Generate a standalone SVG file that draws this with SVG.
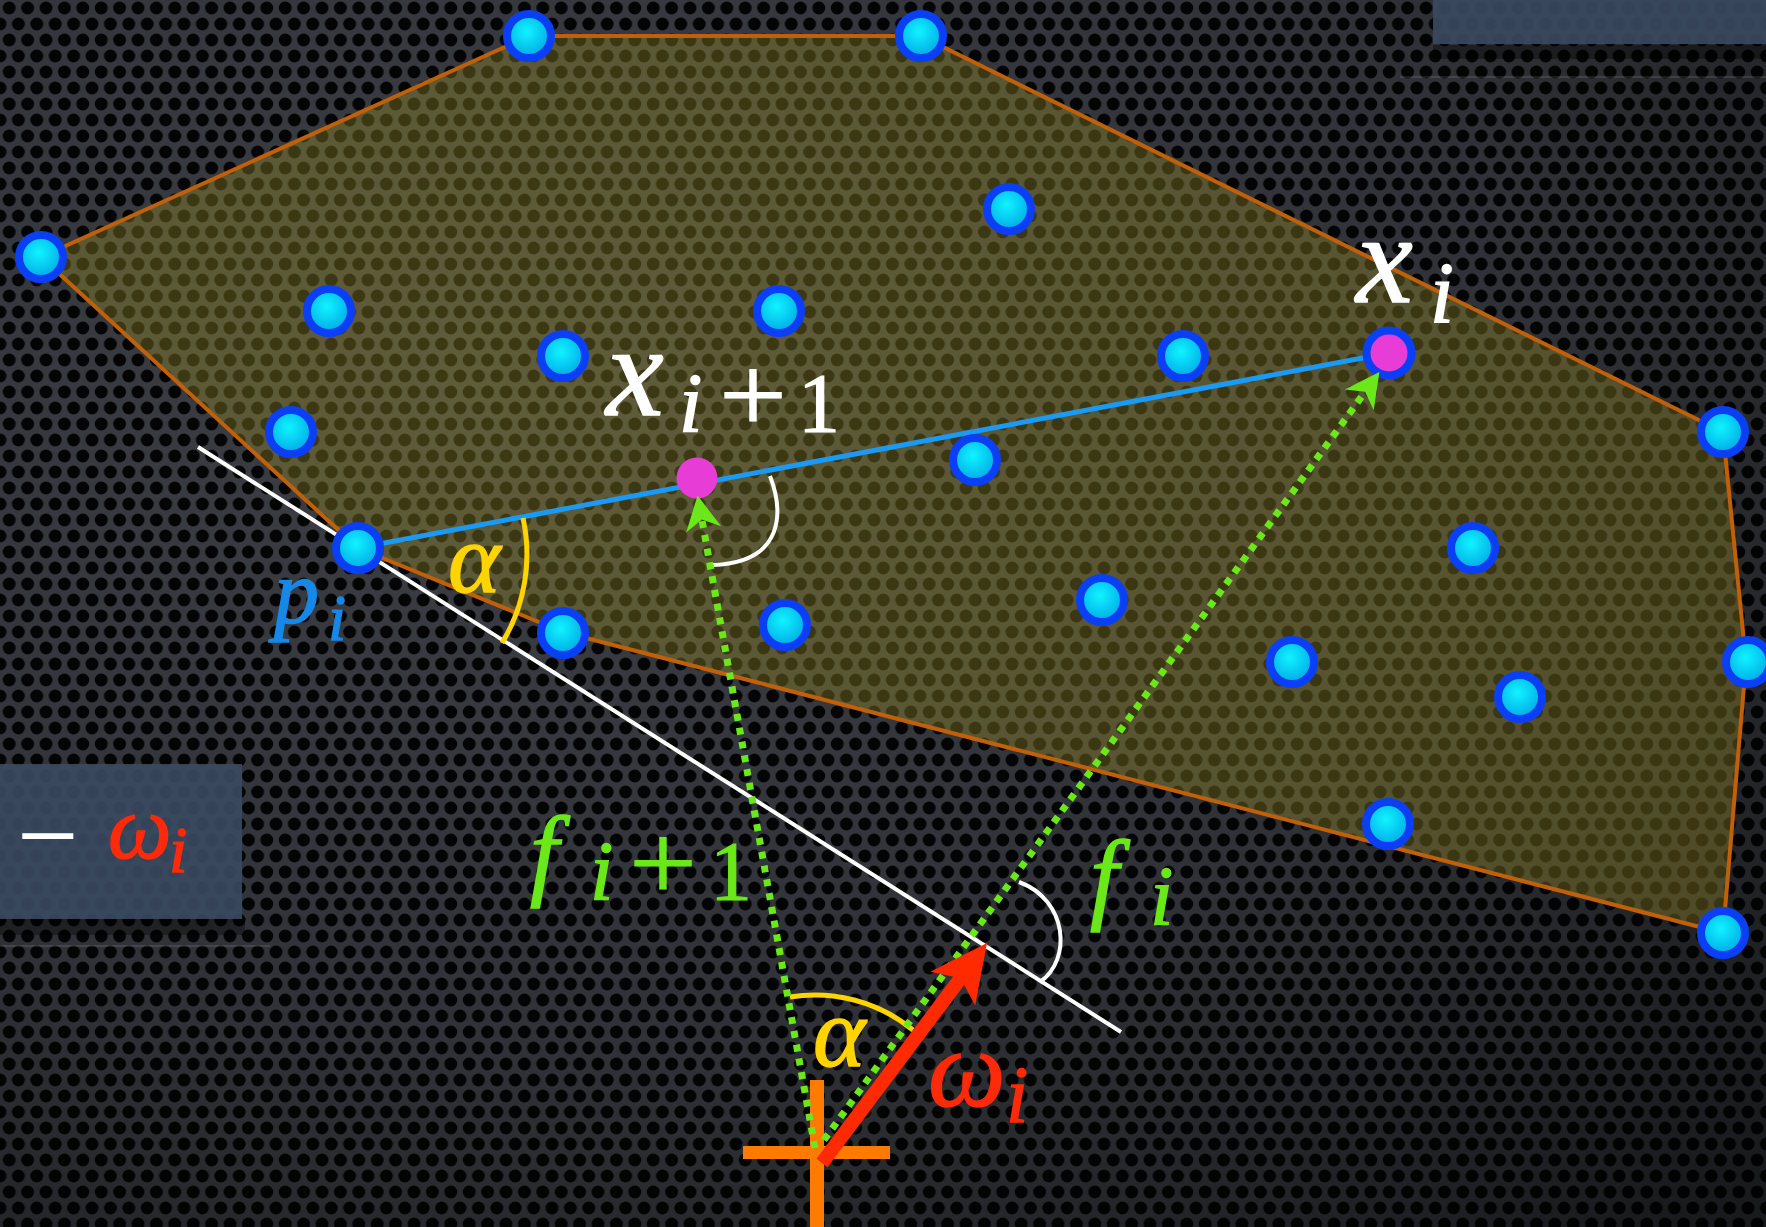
<svg xmlns="http://www.w3.org/2000/svg" width="1766" height="1227" viewBox="0 0 1766 1227">
<defs>
  <pattern id="mesh" width="18.4" height="32" patternUnits="userSpaceOnUse">
    <rect width="18.4" height="32" fill="#3e4147"/>
    <circle cx="9.2" cy="8" r="6.5" fill="#040506"/>
    <circle cx="0" cy="24" r="6.5" fill="#040506"/>
    <circle cx="18.4" cy="24" r="6.5" fill="#040506"/>
  </pattern>
  <radialGradient id="vign" cx="0.3" cy="0.3" r="0.95">
    <stop offset="0" stop-color="#000" stop-opacity="0.02"/>
    <stop offset="0.6" stop-color="#000" stop-opacity="0.25"/>
    <stop offset="1" stop-color="#000" stop-opacity="0.6"/>
  </radialGradient>
  <radialGradient id="cyan" cx="0.45" cy="0.4" r="0.6">
    <stop offset="0" stop-color="#10f4ff"/>
    <stop offset="1" stop-color="#00a8e6"/>
  </radialGradient>
  <marker id="gArrow" markerUnits="userSpaceOnUse" markerWidth="40" markerHeight="40" viewBox="-34 -18 36 36" refX="-22" refY="0" orient="auto">
    <path d="M0,0 L-31,-16 L-22,0 L-31,16 Z" fill="#6ae81a"/>
  </marker>
  <marker id="rArrow" markerUnits="userSpaceOnUse" markerWidth="64" markerHeight="64" viewBox="-60 -32 62 64" refX="-44" refY="0" orient="auto">
    <path d="M0,0 L-57,-28 L-44,0 L-57,28 Z" fill="#ff2a00"/>
  </marker>
  <style>
    .pt { fill: url(#cyan); stroke: #0b3ff5; stroke-width: 8; }
    .mag { fill: #e83cd6; }
    .green { stroke: #6ae81a; stroke-width: 7; stroke-dasharray: 7 7; fill: none; }
    .white { stroke: #ffffff; stroke-width: 4; fill: none; }
    .yarc { stroke: #ffd400; stroke-width: 5; fill: none; }
    .m { font-family: "Liberation Serif", "DejaVu Serif", serif; font-style: italic; stroke-width: 1.4; }
    .r { font-family: "Liberation Serif", "DejaVu Serif", serif; font-style: normal; stroke-width: 1.2; }
    .wt { fill: #ffffff; stroke: #ffffff; }
    .gt { fill: #6ae81a; stroke: #6ae81a; }
    .rt { fill: #ff2a0a; stroke: #ff2a0a; }
    .yt { fill: #ffd400; stroke: #ffd400; }
    .bt { fill: #1688e8; stroke: #1688e8; }
    .box { fill: #3a4a60; fill-opacity: 0.9; }
  </style>
</defs>

<!-- background -->
<rect width="1766" height="1227" fill="url(#mesh)"/>
<rect width="1766" height="1227" fill="url(#vign)"/>
<rect x="1400" y="76" width="366" height="2" fill="#ffffff" fill-opacity="0.1"/>
<rect x="0" y="945" width="270" height="2" fill="#ffffff" fill-opacity="0.1"/>

<!-- boxes -->
<g id="box-top">
  <rect x="1433" y="45" width="333" height="14" fill="#000" fill-opacity="0.35"/>
  <rect class="box" x="1433" y="0" width="333" height="44"/>
</g>
<g id="box-left">
  <rect x="0" y="919" width="245" height="16" fill="#000" fill-opacity="0.35"/>
  <rect class="box" x="0" y="764" width="242" height="155"/>
  <text x="18" y="866" class="r wt" font-size="90" textLength="60" lengthAdjust="spacingAndGlyphs">−</text>
  <text x="108" y="858" class="m rt" font-size="90">ω</text>
  <text x="169" y="872" class="m rt" font-size="66">i</text>
</g>

<!-- hull -->
<g id="hull">
  <polygon points="41,257 529,36 921,36 1723,432 1746,662 1723,933 563,632 358,548" fill="#998b2a" fill-opacity="0.38" stroke="#c0600a" stroke-width="4" stroke-linejoin="round"/>
</g>

<!-- connectors -->
<g id="connectors">
  <line x1="358" y1="548" x2="1389" y2="353" stroke="#1a9af5" stroke-width="5"/>
  <line class="white" x1="198" y1="447" x2="1121" y2="1032"/>
  <path class="yarc" d="M523,518 A170,170 0 0 1 502,643"/>
  <path class="white" d="M770,476 C783,510 786,562 713,565"/>
  <path class="white" d="M1019,882 C1068,900 1072,960 1040,982"/>
  <path class="yarc" d="M790,997 A155,155 0 0 1 913,1030"/>
</g>

<!-- points -->
<g id="points">
  <circle class="pt" cx="529" cy="36" r="22"/>
  <circle class="pt" cx="921" cy="36" r="22"/>
  <circle class="pt" cx="41" cy="257" r="22"/>
  <circle class="pt" cx="1009" cy="209" r="22"/>
  <circle class="pt" cx="329" cy="311" r="22"/>
  <circle class="pt" cx="779" cy="311" r="22"/>
  <circle class="pt" cx="563" cy="356" r="22"/>
  <circle class="pt" cx="1183" cy="356" r="22"/>
  <circle class="pt" cx="291" cy="432" r="22"/>
  <circle class="pt" cx="975" cy="460" r="22"/>
  <circle class="pt" cx="563" cy="633" r="22"/>
  <circle class="pt" cx="785" cy="625" r="22"/>
  <circle class="pt" cx="1102" cy="600" r="22"/>
  <circle class="pt" cx="1473" cy="548" r="22"/>
  <circle class="pt" cx="1723" cy="432" r="22"/>
  <circle class="pt" cx="1292" cy="662" r="22"/>
  <circle class="pt" cx="1520" cy="697" r="22"/>
  <circle class="pt" cx="1748" cy="662" r="22"/>
  <circle class="pt" cx="1388" cy="824" r="22"/>
  <circle class="pt" cx="1723" cy="933" r="22"/>
</g>
<g id="p_i">
  <circle class="pt" cx="358" cy="548" r="22"/>
</g>
<g id="x_i1">
  <circle class="mag" cx="697" cy="478" r="20.5"/>
</g>
<g id="x_i">
  <circle cx="1389" cy="353" r="22.5" fill="#e83cd6" stroke="#0b3ff5" stroke-width="8"/>
</g>

<!-- origin cross -->
<g id="origin">
  <rect x="743" y="1146" width="147" height="13" fill="#ff7a00"/>
  <rect x="810" y="1080" width="14" height="147" fill="#ff7a00"/>
</g>

<!-- arrows -->
<g id="arrows">
  <line class="green" x1="815" y1="1148" x2="701.9" y2="519.6" marker-end="url(#gArrow)"/>
  <line class="green" x1="824" y1="1140" x2="1365.1" y2="391.8" marker-end="url(#gArrow)"/>
  <line x1="822" y1="1163" x2="960.6" y2="978.2" stroke="#ff2a00" stroke-width="14" marker-end="url(#rArrow)"/>
</g>

<!-- labels -->
<g id="labels">
  <text x="606" y="415" class="m wt" font-size="130">x</text>
  <text x="679" y="432" class="m wt" font-size="84">i</text>
  <text x="719" y="432" class="r wt" font-size="110" textLength="68" lengthAdjust="spacingAndGlyphs">+</text>
  <text x="798" y="432" class="r wt" font-size="84">1</text>

  <text x="1356" y="302" class="m wt" font-size="128">x</text>
  <text x="1430" y="322" class="m wt" font-size="86">i</text>

  <text x="274" y="623" class="m bt" font-size="90">p</text>
  <text x="328" y="640" class="m bt" font-size="65">i</text>

  <text x="448" y="592" class="m yt" font-size="100">α</text>
  <text x="813" y="1066" class="m yt" font-size="100">α</text>

  <text x="928" y="1106" class="m rt" font-size="110">ω</text>
  <text x="1006" y="1122" class="m rt" font-size="80">i</text>

  <text x="530" y="886" class="m gt" font-size="102">f</text>
  <text x="590" y="900" class="m gt" font-size="84">i</text>
  <text x="629" y="900" class="r gt" font-size="110" textLength="68" lengthAdjust="spacingAndGlyphs">+</text>
  <text x="710" y="900" class="r gt" font-size="84">1</text>

  <text x="1090" y="910" class="m gt" font-size="102">f</text>
  <text x="1150" y="925" class="m gt" font-size="84">i</text>
</g>
</svg>
